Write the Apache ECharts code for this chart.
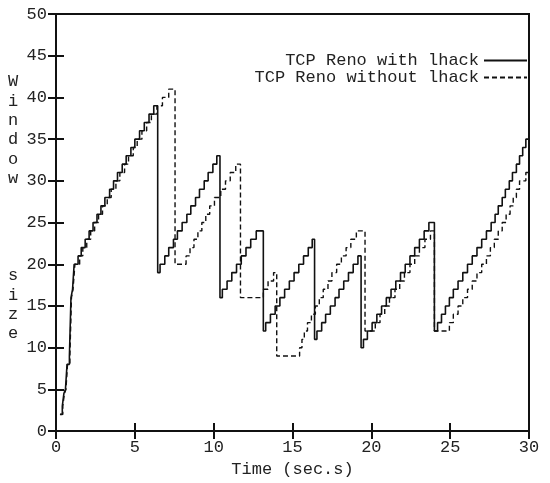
<!DOCTYPE html>
<html>
<head>
<meta charset="utf-8">
<script src="https://cdn.jsdelivr.net/npm/echarts@6/dist/echarts.min.js"></script>
<style>
  html, body { margin: 0; padding: 0; background: #fff; }
  #window-chart { width: 550px; height: 483px; }
</style>
</head>
<body>
<div id="window-chart"></div>
<script>
// window size (packets) vs time (s); each pair = [time the value starts, window]
const withLhack = [
  [0.25, 2], [0.4, 3], [0.5, 4.5], [0.6, 5], [0.7, 8], [0.85, 9], [0.95, 16], [1.05, 17], [1.15, 20],
  [1.4, 21], [1.6, 22], [1.85, 23], [2.1, 24], [2.35, 25], [2.6, 26], [2.85, 27], [3.1, 28], [3.4, 29],
  [3.65, 30], [3.9, 31], [4.2, 32], [4.45, 33], [4.75, 34], [5.0, 35], [5.3, 36], [5.6, 37], [5.9, 38], [6.2, 39],
  [6.45, 19], [6.6, 20], [6.9, 21], [7.15, 22], [7.45, 23], [7.7, 24], [8.0, 25], [8.3, 26], [8.55, 27],
  [8.85, 28], [9.1, 29], [9.4, 30], [9.65, 31], [9.95, 32], [10.2, 33],
  [10.4, 16], [10.55, 17], [10.85, 18], [11.15, 19], [11.45, 20], [11.75, 21], [12.05, 22], [12.35, 23], [12.7, 24],
  [13.15, 12], [13.3, 13], [13.6, 14], [13.9, 15], [14.2, 16], [14.5, 17], [14.8, 18], [15.1, 19], [15.4, 20],
  [15.7, 21], [16.0, 22], [16.25, 23],
  [16.4, 11], [16.55, 12], [16.85, 13], [17.1, 14], [17.4, 15], [17.7, 16], [17.95, 17], [18.25, 18], [18.55, 19],
  [18.85, 20], [19.15, 21],
  [19.35, 10], [19.5, 11], [19.75, 12], [20.05, 13], [20.35, 14], [20.65, 15], [20.95, 16], [21.25, 17], [21.55, 18],
  [21.85, 19], [22.15, 20], [22.45, 21], [22.75, 22], [23.05, 23], [23.35, 24], [23.65, 25],
  [24.0, 12], [24.2, 13], [24.45, 14], [24.7, 15], [24.95, 16], [25.2, 17], [25.5, 18], [25.8, 19], [26.1, 20],
  [26.4, 21], [26.7, 22], [27.0, 23], [27.3, 24], [27.6, 25], [27.85, 26], [28.05, 27], [28.3, 28], [28.5, 29],
  [28.75, 30], [28.95, 31], [29.2, 32], [29.4, 33], [29.6, 34], [29.8, 35], [30, 35]
];

const withoutLhack = [
  [0.28, 2], [0.43, 3], [0.53, 4.5], [0.63, 5], [0.73, 8], [0.88, 9], [0.98, 16], [1.08, 17], [1.2, 20],
  [1.5, 21], [1.7, 22], [1.95, 23], [2.2, 24], [2.45, 25], [2.7, 26], [2.95, 27], [3.25, 28], [3.5, 29],
  [3.8, 30], [4.05, 31], [4.35, 32], [4.6, 33], [4.9, 34], [5.15, 35], [5.45, 36], [5.75, 37], [6.05, 38],
  [6.4, 39], [6.75, 40], [7.15, 41],
  [7.55, 20], [8.25, 21], [8.5, 22], [8.75, 23], [9.0, 24], [9.25, 25], [9.5, 26], [9.75, 27], [10.05, 28],
  [10.45, 29], [10.75, 30], [11.05, 31], [11.4, 32],
  [11.7, 16], [13.15, 17], [13.45, 18], [13.8, 19],
  [14.0, 9], [15.45, 10], [15.6, 11], [15.75, 12], [15.95, 13], [16.2, 14], [16.45, 15], [16.7, 16], [16.95, 17],
  [17.25, 18], [17.5, 19], [17.8, 20], [18.1, 21], [18.4, 22], [18.7, 23], [19.05, 24],
  [19.6, 12], [20.25, 13], [20.55, 14], [20.85, 15], [21.15, 16], [21.5, 17], [21.8, 18], [22.1, 19], [22.45, 20],
  [22.75, 21], [23.05, 22], [23.4, 23], [23.75, 24],
  [24.0, 12], [24.95, 13], [25.2, 14], [25.5, 15], [25.8, 16], [26.1, 17], [26.4, 18], [26.7, 19], [27.0, 20],
  [27.3, 21], [27.55, 22], [27.8, 23], [28.05, 24], [28.3, 25], [28.55, 26], [28.8, 27], [29.0, 28], [29.2, 29],
  [29.4, 30], [29.8, 31], [30, 31]
];

const seriesNames = ["TCP Reno with lhack", "TCP Reno without lhack"];
const yAxisTitle = "W\ni\nn\nd\no\nw\n\n\n\n\ns\ni\nz\ne";
const xAxisTitle = "Time (sec.s)";

const FONT = "Liberation Mono";
const INK = "#111";

const chart = echarts.init(document.getElementById("window-chart"));

const tickAxis = {
  type: "value",
  axisLine: { show: true, lineStyle: { color: INK, width: 2 } },
  axisTick: { show: true, inside: true, length: 8, lineStyle: { color: INK, width: 2 } },
  splitLine: { show: false },
};

chart.setOption({
  animation: false,
  grid: { left: 56, right: 21, top: 14, bottom: 50, show: true, borderColor: INK, borderWidth: 2 },
  legend: {
    data: seriesNames,
    orient: "vertical",
    align: "right",
    right: 22,
    top: 52,
    padding: 0,
    itemWidth: 43,
    itemHeight: 10,
    itemGap: 0,
    selectedMode: false,
    itemStyle: { opacity: 0 },
    textStyle: { fontFamily: FONT, fontSize: 17, color: "#222", lineHeight: 17 },
  },
  xAxis: [
    {
      ...tickAxis,
      min: 0, max: 30, interval: 5,
      axisLabel: { margin: 8, color: "#222", fontFamily: FONT, fontSize: 17 },
      name: xAxisTitle,
      nameLocation: "middle",
      nameGap: 27,
      nameTextStyle: { fontFamily: FONT, fontSize: 17, color: "#222" },
    },
    { ...tickAxis, position: "top", min: 0, max: 30, interval: 5, axisLabel: { show: false } },
  ],
  yAxis: [
    {
      ...tickAxis,
      min: 0, max: 50, interval: 5,
      axisLabel: { margin: 9, color: "#222", fontFamily: FONT, fontSize: 17 },
    },
    { ...tickAxis, position: "right", min: 0, max: 50, interval: 5, axisLabel: { show: false } },
  ],
  graphic: [
    {
      type: "text",
      left: 8,
      top: 72,
      style: {
        text: yAxisTitle,
        fontFamily: FONT,
        fontSize: 17,
        lineHeight: 19.4,
        fill: "#222",
        align: "center",
      },
    },
  ],
  series: [
    {
      name: seriesNames[0],
      type: "line",
      step: "end",
      symbol: "none",
      data: withLhack,
      lineStyle: { color: INK, width: 1.6 },
      itemStyle: { color: INK },
    },
    {
      name: seriesNames[1],
      type: "line",
      step: "end",
      symbol: "none",
      data: withoutLhack,
      lineStyle: { color: INK, width: 1.4, type: [5, 3] },
      itemStyle: { color: INK },
    },
  ],
});
</script>
</body>
</html>
